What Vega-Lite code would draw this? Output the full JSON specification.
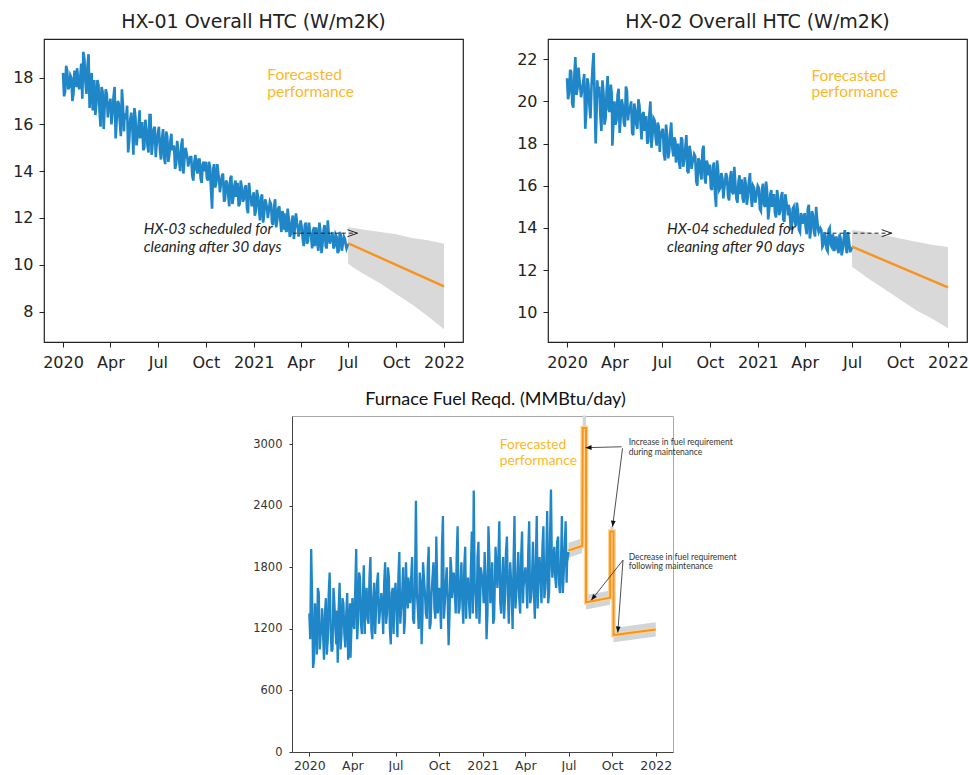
{
"$schema":"https://vega.github.io/schema/vega-lite/v6.json",
"background":"white",
"padding":{"left":12,"top":12,"right":0,"bottom":0},
"config":{"view":{"stroke":"#222","strokeWidth":1.2},"axis":{"grid":false,"domain":false,"title":null,"labelOverlap":false},"title":{"fontWeight":"normal"}},
"datasets":{
"obs":[
{"date":"2020-01-01","hx1":18.2,"hx2":21.1,"fuel":1350},{"date":"2020-01-05","hx1":17.4,"hx2":20.4,"fuel":1980},{"date":"2020-01-09","hx1":18.3,"hx2":21.4,"fuel":820},{"date":"2020-01-13","hx1":17.6,"hx2":19.7,"fuel":1450},{"date":"2020-01-17","hx1":18.0,"hx2":22.1,"fuel":950},{"date":"2020-01-21","hx1":17.3,"hx2":20.6,"fuel":1550},{"date":"2020-01-25","hx1":17.9,"hx2":21.0,"fuel":1150},{"date":"2020-01-28","hx1":18.4,"hx2":20.2,"fuel":1400},
{"date":"2020-02-01","hx1":17.5,"hx2":20.9,"fuel":900},{"date":"2020-02-05","hx1":18.6,"hx2":18.7,"fuel":1500},{"date":"2020-02-09","hx1":19.1,"hx2":21.1,"fuel":1100},{"date":"2020-02-13","hx1":17.8,"hx2":19.8,"fuel":1750},{"date":"2020-02-17","hx1":18.5,"hx2":20.7,"fuel":980},{"date":"2020-02-21","hx1":16.7,"hx2":22.3,"fuel":1600},{"date":"2020-02-25","hx1":18.2,"hx2":18.0,"fuel":1200},{"date":"2020-02-28","hx1":17.6,"hx2":21.0,"fuel":1380},
{"date":"2020-03-01","hx1":17.9,"hx2":20.2,"fuel":870},{"date":"2020-03-05","hx1":16.9,"hx2":19.3,"fuel":1650},{"date":"2020-03-09","hx1":17.7,"hx2":21.0,"fuel":1150},{"date":"2020-03-13","hx1":15.9,"hx2":18.9,"fuel":1450},{"date":"2020-03-17","hx1":17.4,"hx2":20.5,"fuel":1020},{"date":"2020-03-21","hx1":16.8,"hx2":19.6,"fuel":1550},{"date":"2020-03-25","hx1":17.3,"hx2":20.8,"fuel":1250},{"date":"2020-03-28","hx1":16.6,"hx2":17.9,"fuel":920},
{"date":"2020-04-01","hx1":17.1,"hx2":20.0,"fuel":1500},{"date":"2020-04-05","hx1":16.5,"hx2":19.1,"fuel":1200},{"date":"2020-04-09","hx1":17.6,"hx2":20.6,"fuel":1980},{"date":"2020-04-13","hx1":16.2,"hx2":19.3,"fuel":1300},{"date":"2020-04-17","hx1":16.9,"hx2":19.8,"fuel":1700},{"date":"2020-04-21","hx1":15.5,"hx2":18.8,"fuel":1150},{"date":"2020-04-25","hx1":16.8,"hx2":20.5,"fuel":1820},{"date":"2020-04-28","hx1":16.4,"hx2":19.4,"fuel":1350},
{"date":"2020-05-01","hx1":16.3,"hx2":19.7,"fuel":1600},{"date":"2020-05-05","hx1":14.8,"hx2":18.5,"fuel":1250},{"date":"2020-05-09","hx1":16.2,"hx2":19.9,"fuel":1900},{"date":"2020-05-13","hx1":15.9,"hx2":18.9,"fuel":1100},{"date":"2020-05-17","hx1":16.7,"hx2":20.1,"fuel":1650},{"date":"2020-05-21","hx1":15.1,"hx2":19.0,"fuel":1400},{"date":"2020-05-25","hx1":16.0,"hx2":19.4,"fuel":1750},{"date":"2020-05-28","hx1":15.4,"hx2":18.6,"fuel":1300},
{"date":"2020-06-01","hx1":16.1,"hx2":19.3,"fuel":1550},{"date":"2020-06-05","hx1":15.0,"hx2":18.1,"fuel":1150},{"date":"2020-06-09","hx1":15.8,"hx2":20.0,"fuel":1850},{"date":"2020-06-13","hx1":14.8,"hx2":18.4,"fuel":1350},{"date":"2020-06-17","hx1":16.4,"hx2":19.1,"fuel":1700},{"date":"2020-06-21","hx1":15.2,"hx2":17.9,"fuel":1050},{"date":"2020-06-25","hx1":15.9,"hx2":18.8,"fuel":1600},{"date":"2020-06-28","hx1":15.0,"hx2":18.2,"fuel":1450},
{"date":"2020-07-01","hx1":15.6,"hx2":18.6,"fuel":1650},{"date":"2020-07-05","hx1":14.9,"hx2":17.5,"fuel":1120},{"date":"2020-07-09","hx1":15.4,"hx2":18.9,"fuel":1950},{"date":"2020-07-13","hx1":14.6,"hx2":17.3,"fuel":1400},{"date":"2020-07-17","hx1":15.7,"hx2":18.5,"fuel":1800},{"date":"2020-07-21","hx1":14.4,"hx2":17.8,"fuel":1300},{"date":"2020-07-25","hx1":15.3,"hx2":18.3,"fuel":1550},{"date":"2020-07-28","hx1":14.9,"hx2":17.1,"fuel":1700},
{"date":"2020-08-01","hx1":15.1,"hx2":18.0,"fuel":1450},{"date":"2020-08-05","hx1":14.3,"hx2":16.8,"fuel":1900},{"date":"2020-08-09","hx1":14.9,"hx2":18.2,"fuel":1250},{"date":"2020-08-13","hx1":14.0,"hx2":17.2,"fuel":2450},{"date":"2020-08-17","hx1":15.4,"hx2":18.4,"fuel":1400},{"date":"2020-08-21","hx1":14.5,"hx2":16.6,"fuel":1750},{"date":"2020-08-25","hx1":14.8,"hx2":17.6,"fuel":1050},{"date":"2020-08-28","hx1":14.2,"hx2":17.0,"fuel":1850},
{"date":"2020-09-01","hx1":14.6,"hx2":17.5,"fuel":1550},{"date":"2020-09-05","hx1":13.8,"hx2":16.2,"fuel":1300},{"date":"2020-09-09","hx1":14.4,"hx2":17.3,"fuel":2000},{"date":"2020-09-13","hx1":14.1,"hx2":16.6,"fuel":1250},{"date":"2020-09-17","hx1":14.5,"hx2":17.7,"fuel":1700},{"date":"2020-09-21","hx1":13.7,"hx2":16.4,"fuel":1400},{"date":"2020-09-25","hx1":14.3,"hx2":17.2,"fuel":2100},{"date":"2020-09-28","hx1":14.0,"hx2":16.5,"fuel":1350},
{"date":"2020-10-01","hx1":14.4,"hx2":17.0,"fuel":1600},{"date":"2020-10-05","hx1":13.6,"hx2":15.8,"fuel":1200},{"date":"2020-10-09","hx1":14.2,"hx2":17.1,"fuel":2300},{"date":"2020-10-13","hx1":12.4,"hx2":15.0,"fuel":1450},{"date":"2020-10-17","hx1":14.3,"hx2":16.7,"fuel":1800},{"date":"2020-10-21","hx1":13.5,"hx2":15.9,"fuel":1040},{"date":"2020-10-25","hx1":13.9,"hx2":16.4,"fuel":1900},{"date":"2020-10-28","hx1":13.1,"hx2":15.7,"fuel":1500},
{"date":"2020-11-01","hx1":13.8,"hx2":16.6,"fuel":1750},{"date":"2020-11-05","hx1":12.7,"hx2":15.5,"fuel":1350},{"date":"2020-11-09","hx1":13.6,"hx2":16.4,"fuel":2200},{"date":"2020-11-13","hx1":13.0,"hx2":15.7,"fuel":1400},{"date":"2020-11-17","hx1":13.7,"hx2":16.9,"fuel":1850},{"date":"2020-11-21","hx1":12.6,"hx2":15.4,"fuel":1250},{"date":"2020-11-25","hx1":13.4,"hx2":16.2,"fuel":2000},{"date":"2020-11-28","hx1":12.9,"hx2":15.6,"fuel":1550},
{"date":"2020-12-01","hx1":13.5,"hx2":16.3,"fuel":1700},{"date":"2020-12-05","hx1":12.6,"hx2":15.2,"fuel":1300},{"date":"2020-12-09","hx1":13.3,"hx2":16.1,"fuel":2150},{"date":"2020-12-13","hx1":12.8,"hx2":15.5,"fuel":2550},{"date":"2020-12-17","hx1":13.4,"hx2":16.6,"fuel":1500},{"date":"2020-12-21","hx1":12.2,"hx2":15.0,"fuel":1900},{"date":"2020-12-25","hx1":13.0,"hx2":15.9,"fuel":1250},{"date":"2020-12-28","hx1":12.5,"hx2":15.3,"fuel":1800},
{"date":"2021-01-01","hx1":13.1,"hx2":16.0,"fuel":1650},{"date":"2021-01-05","hx1":12.3,"hx2":14.9,"fuel":1950},{"date":"2021-01-09","hx1":12.9,"hx2":15.8,"fuel":1100},{"date":"2021-01-13","hx1":11.9,"hx2":15.1,"fuel":2200},{"date":"2021-01-17","hx1":13.0,"hx2":16.2,"fuel":1450},{"date":"2021-01-21","hx1":12.2,"hx2":14.4,"fuel":1850},{"date":"2021-01-25","hx1":12.6,"hx2":15.6,"fuel":1300},{"date":"2021-01-28","hx1":12.0,"hx2":15.0,"fuel":2000},
{"date":"2021-02-01","hx1":12.7,"hx2":15.6,"fuel":1600},{"date":"2021-02-05","hx1":11.8,"hx2":14.5,"fuel":2250},{"date":"2021-02-09","hx1":12.5,"hx2":15.4,"fuel":1350},{"date":"2021-02-13","hx1":11.6,"hx2":14.8,"fuel":1900},{"date":"2021-02-17","hx1":12.4,"hx2":15.7,"fuel":1500},{"date":"2021-02-21","hx1":11.9,"hx2":14.3,"fuel":2100},{"date":"2021-02-25","hx1":12.3,"hx2":15.2,"fuel":1250},{"date":"2021-02-28","hx1":11.5,"hx2":14.6,"fuel":1850},
{"date":"2021-03-01","hx1":12.2,"hx2":15.1,"fuel":1750},{"date":"2021-03-05","hx1":11.4,"hx2":14.1,"fuel":1200},{"date":"2021-03-09","hx1":12.0,"hx2":14.9,"fuel":2300},{"date":"2021-03-13","hx1":11.3,"hx2":14.3,"fuel":1550},{"date":"2021-03-17","hx1":12.1,"hx2":15.2,"fuel":1950},{"date":"2021-03-21","hx1":11.6,"hx2":13.9,"fuel":1350},{"date":"2021-03-25","hx1":11.8,"hx2":14.7,"fuel":2150},{"date":"2021-03-28","hx1":11.2,"hx2":14.2,"fuel":1600},
{"date":"2021-04-01","hx1":11.9,"hx2":14.7,"fuel":1800},{"date":"2021-04-05","hx1":11.1,"hx2":13.7,"fuel":1400},{"date":"2021-04-09","hx1":11.7,"hx2":15.1,"fuel":2250},{"date":"2021-04-13","hx1":10.9,"hx2":13.9,"fuel":1500},{"date":"2021-04-17","hx1":11.8,"hx2":14.6,"fuel":2050},{"date":"2021-04-21","hx1":11.2,"hx2":13.6,"fuel":1300},{"date":"2021-04-25","hx1":11.5,"hx2":14.4,"fuel":2300},{"date":"2021-04-28","hx1":10.8,"hx2":13.8,"fuel":1650},
{"date":"2021-05-01","hx1":11.6,"hx2":14.0,"fuel":1900},{"date":"2021-05-05","hx1":10.6,"hx2":13.1,"fuel":1450},{"date":"2021-05-09","hx1":11.4,"hx2":13.8,"fuel":2200},{"date":"2021-05-13","hx1":10.9,"hx2":13.0,"fuel":1600},{"date":"2021-05-17","hx1":11.7,"hx2":13.9,"fuel":2350},{"date":"2021-05-21","hx1":10.7,"hx2":13.2,"fuel":1550},{"date":"2021-05-25","hx1":11.3,"hx2":13.7,"fuel":2560},{"date":"2021-05-28","hx1":11.0,"hx2":12.9,"fuel":1700},
{"date":"2021-06-01","hx1":11.4,"hx2":13.6,"fuel":2000},{"date":"2021-06-05","hx1":10.8,"hx2":12.8,"fuel":1600},{"date":"2021-06-09","hx1":11.2,"hx2":13.5,"fuel":2100},{"date":"2021-06-13","hx1":10.6,"hx2":13.0,"fuel":1550},{"date":"2021-06-17","hx1":11.3,"hx2":13.9,"fuel":2300},{"date":"2021-06-21","hx1":10.9,"hx2":12.8,"fuel":1750},{"date":"2021-06-25","hx1":11.1,"hx2":13.4,"fuel":2250},{"date":"2021-06-28","hx1":10.7,"hx2":12.9,"fuel":1850},
{"date":"2021-07-01","hx1":10.9,"hx2":13.1,"fuel":1950},
{"date":"2020-01-03","hx1":17.2,"hx2":20.1,"fuel":1100},{"date":"2020-01-07","hx1":18.5,"hx2":21.5,"fuel":1500},{"date":"2020-01-11","hx1":17.5,"hx2":19.9,"fuel":900},{"date":"2020-01-15","hx1":18.1,"hx2":21.2,"fuel":1300},{"date":"2020-01-19","hx1":17.0,"hx2":20.3,"fuel":1600},{"date":"2020-01-23","hx1":18.3,"hx2":21.6,"fuel":1000},{"date":"2020-01-27","hx1":17.6,"hx2":20.5,"fuel":1250},
{"date":"2020-02-03","hx1":18.0,"hx2":21.3,"fuel":1350},{"date":"2020-02-07","hx1":17.1,"hx2":19.5,"fuel":950},{"date":"2020-02-11","hx1":18.8,"hx2":20.8,"fuel":1550},{"date":"2020-02-15","hx1":17.3,"hx2":19.2,"fuel":1200},{"date":"2020-02-19","hx1":19.0,"hx2":21.6,"fuel":1000},{"date":"2020-02-23","hx1":17.5,"hx2":20.1,"fuel":1450},{"date":"2020-02-27","hx1":16.6,"hx2":19.7,"fuel":1050},
{"date":"2020-03-03","hx1":16.4,"hx2":20.7,"fuel":1400},{"date":"2020-03-07","hx1":17.9,"hx2":18.6,"fuel":1000},{"date":"2020-03-11","hx1":16.6,"hx2":20.4,"fuel":1500},{"date":"2020-03-15","hx1":17.6,"hx2":19.2,"fuel":1150},{"date":"2020-03-19","hx1":15.8,"hx2":21.2,"fuel":1350},{"date":"2020-03-23","hx1":17.5,"hx2":19.5,"fuel":900},{"date":"2020-03-27","hx1":16.3,"hx2":20.3,"fuel":1450},
{"date":"2020-04-03","hx1":16.0,"hx2":18.9,"fuel":1250},{"date":"2020-04-07","hx1":17.2,"hx2":20.3,"fuel":1600},{"date":"2020-04-11","hx1":15.4,"hx2":18.5,"fuel":1100},{"date":"2020-04-15","hx1":17.0,"hx2":20.1,"fuel":1750},{"date":"2020-04-19","hx1":16.1,"hx2":19.0,"fuel":1250},{"date":"2020-04-23","hx1":17.5,"hx2":20.7,"fuel":1500},{"date":"2020-04-27","hx1":15.7,"hx2":19.1,"fuel":1150},
{"date":"2020-05-03","hx1":16.8,"hx2":20.0,"fuel":1300},{"date":"2020-05-07","hx1":15.3,"hx2":18.4,"fuel":1700},{"date":"2020-05-11","hx1":16.5,"hx2":19.6,"fuel":1200},{"date":"2020-05-15","hx1":14.7,"hx2":18.7,"fuel":1500},{"date":"2020-05-19","hx1":16.3,"hx2":19.8,"fuel":1150},{"date":"2020-05-23","hx1":15.5,"hx2":18.2,"fuel":1650},{"date":"2020-05-27","hx1":16.6,"hx2":19.5,"fuel":1250},
{"date":"2020-06-03","hx1":14.9,"hx2":18.0,"fuel":1400},{"date":"2020-06-07","hx1":16.2,"hx2":19.4,"fuel":1650},{"date":"2020-06-11","hx1":15.1,"hx2":17.8,"fuel":1250},{"date":"2020-06-15","hx1":16.4,"hx2":19.2,"fuel":1800},{"date":"2020-06-19","hx1":14.7,"hx2":18.3,"fuel":1200},{"date":"2020-06-23","hx1":15.8,"hx2":19.0,"fuel":1550},{"date":"2020-06-27","hx1":14.6,"hx2":17.6,"fuel":1150},
{"date":"2020-07-03","hx1":15.9,"hx2":18.7,"fuel":1350},{"date":"2020-07-07","hx1":14.5,"hx2":17.2,"fuel":1700},{"date":"2020-07-11","hx1":15.8,"hx2":18.4,"fuel":1250},{"date":"2020-07-15","hx1":14.3,"hx2":17.6,"fuel":1550},{"date":"2020-07-19","hx1":15.5,"hx2":19.0,"fuel":1150},{"date":"2020-07-23","hx1":14.7,"hx2":17.4,"fuel":1850},{"date":"2020-07-27","hx1":15.6,"hx2":18.1,"fuel":1400},
{"date":"2020-08-03","hx1":14.1,"hx2":17.1,"fuel":1700},{"date":"2020-08-07","hx1":15.3,"hx2":18.3,"fuel":1300},{"date":"2020-08-11","hx1":14.4,"hx2":16.9,"fuel":1600},{"date":"2020-08-15","hx1":15.1,"hx2":17.8,"fuel":1550},{"date":"2020-08-19","hx1":13.9,"hx2":16.7,"fuel":1200},{"date":"2020-08-23","hx1":15.0,"hx2":17.9,"fuel":1650},{"date":"2020-08-27","hx1":14.5,"hx2":16.8,"fuel":1350},
{"date":"2020-09-03","hx1":14.6,"hx2":17.4,"fuel":1350},{"date":"2020-09-07","hx1":13.6,"hx2":16.0,"fuel":1800},{"date":"2020-09-11","hx1":14.7,"hx2":17.2,"fuel":1200},{"date":"2020-09-15","hx1":13.9,"hx2":16.3,"fuel":1550},{"date":"2020-09-19","hx1":14.5,"hx2":17.9,"fuel":1850},{"date":"2020-09-23","hx1":13.5,"hx2":16.1,"fuel":1300},{"date":"2020-09-27","hx1":14.4,"hx2":17.0,"fuel":1600},
{"date":"2020-10-03","hx1":13.7,"hx2":15.9,"fuel":1450},{"date":"2020-10-07","hx1":14.4,"hx2":16.9,"fuel":2000},{"date":"2020-10-11","hx1":13.2,"hx2":15.6,"fuel":1300},{"date":"2020-10-15","hx1":14.1,"hx2":17.2,"fuel":1650},{"date":"2020-10-19","hx1":13.3,"hx2":15.8,"fuel":1500},{"date":"2020-10-23","hx1":14.3,"hx2":16.6,"fuel":1350},{"date":"2020-10-27","hx1":13.5,"hx2":15.4,"fuel":1750},
{"date":"2020-11-03","hx1":13.9,"hx2":16.4,"fuel":1550},{"date":"2020-11-07","hx1":12.8,"hx2":15.3,"fuel":1900},{"date":"2020-11-11","hx1":13.5,"hx2":16.7,"fuel":1350},{"date":"2020-11-15","hx1":12.5,"hx2":15.6,"fuel":1650},{"date":"2020-11-19","hx1":13.8,"hx2":16.1,"fuel":1450},{"date":"2020-11-23","hx1":12.9,"hx2":15.2,"fuel":1800},{"date":"2020-11-27","hx1":13.6,"hx2":16.5,"fuel":1300},
{"date":"2020-12-03","hx1":12.5,"hx2":15.4,"fuel":1450},{"date":"2020-12-07","hx1":13.6,"hx2":16.4,"fuel":1800},{"date":"2020-12-11","hx1":12.7,"hx2":15.1,"fuel":1350},{"date":"2020-12-15","hx1":13.3,"hx2":16.2,"fuel":1650},{"date":"2020-12-19","hx1":12.4,"hx2":15.5,"fuel":1300},{"date":"2020-12-23","hx1":13.5,"hx2":16.0,"fuel":2050},{"date":"2020-12-27","hx1":12.8,"hx2":15.2,"fuel":1550},
{"date":"2021-01-03","hx1":12.1,"hx2":15.9,"fuel":1450},{"date":"2021-01-07","hx1":13.2,"hx2":14.8,"fuel":1700},{"date":"2021-01-11","hx1":12.4,"hx2":16.1,"fuel":1350},{"date":"2021-01-15","hx1":12.9,"hx2":15.0,"fuel":1900},{"date":"2021-01-19","hx1":11.8,"hx2":15.7,"fuel":1600},{"date":"2021-01-23","hx1":12.8,"hx2":14.9,"fuel":1250},{"date":"2021-01-27","hx1":12.3,"hx2":15.8,"fuel":1750},
{"date":"2021-02-03","hx1":12.6,"hx2":14.7,"fuel":1900},{"date":"2021-02-07","hx1":11.7,"hx2":15.8,"fuel":1450},{"date":"2021-02-11","hx1":12.8,"hx2":14.6,"fuel":1700},{"date":"2021-02-15","hx1":11.9,"hx2":15.5,"fuel":1300},{"date":"2021-02-19","hx1":12.5,"hx2":14.4,"fuel":1950},{"date":"2021-02-23","hx1":11.4,"hx2":15.6,"fuel":1550},{"date":"2021-02-27","hx1":12.1,"hx2":14.9,"fuel":1700},
{"date":"2021-03-03","hx1":11.5,"hx2":14.9,"fuel":1550},{"date":"2021-03-07","hx1":12.4,"hx2":13.9,"fuel":1850},{"date":"2021-03-11","hx1":11.2,"hx2":15.0,"fuel":1400},{"date":"2021-03-15","hx1":11.9,"hx2":14.1,"fuel":1700},{"date":"2021-03-19","hx1":11.1,"hx2":14.8,"fuel":1500},{"date":"2021-03-23","hx1":12.2,"hx2":13.8,"fuel":1900},{"date":"2021-03-27","hx1":11.5,"hx2":14.5,"fuel":1450},
{"date":"2021-04-03","hx1":11.6,"hx2":14.0,"fuel":1650},{"date":"2021-04-07","hx1":10.8,"hx2":14.9,"fuel":1950},{"date":"2021-04-11","hx1":11.8,"hx2":13.5,"fuel":1450},{"date":"2021-04-15","hx1":11.0,"hx2":14.8,"fuel":1700},{"date":"2021-04-19","hx1":11.4,"hx2":13.8,"fuel":1550},{"date":"2021-04-23","hx1":10.7,"hx2":15.0,"fuel":1850},{"date":"2021-04-27","hx1":11.6,"hx2":13.9,"fuel":1400},
{"date":"2021-05-03","hx1":10.9,"hx2":13.9,"fuel":1650},{"date":"2021-05-07","hx1":11.8,"hx2":13.2,"fuel":2000},{"date":"2021-05-11","hx1":10.5,"hx2":13.6,"fuel":1500},{"date":"2021-05-15","hx1":11.5,"hx2":12.9,"fuel":1850},{"date":"2021-05-19","hx1":10.8,"hx2":14.0,"fuel":1450},{"date":"2021-05-23","hx1":11.9,"hx2":13.1,"fuel":2100},{"date":"2021-05-27","hx1":10.9,"hx2":13.5,"fuel":1800},
{"date":"2021-06-03","hx1":10.7,"hx2":13.0,"fuel":1700},{"date":"2021-06-07","hx1":11.3,"hx2":13.7,"fuel":2050},{"date":"2021-06-11","hx1":10.5,"hx2":12.7,"fuel":1650},{"date":"2021-06-15","hx1":11.4,"hx2":13.5,"fuel":1800},{"date":"2021-06-19","hx1":10.6,"hx2":13.1,"fuel":1550},{"date":"2021-06-23","hx1":11.2,"hx2":13.8,"fuel":2000},{"date":"2021-06-27","hx1":10.8,"hx2":12.9,"fuel":1650}
],
"band1":[{"date":"2021-07-01","lo":10.05,"hi":11.6},{"date":"2021-07-10","lo":9.9,"hi":11.58},{"date":"2021-08-01","lo":9.6,"hi":11.5},{"date":"2021-09-01","lo":9.2,"hi":11.4},{"date":"2021-10-01","lo":8.75,"hi":11.3},{"date":"2021-11-01","lo":8.3,"hi":11.15},{"date":"2021-12-01","lo":7.8,"hi":11.05},{"date":"2022-01-01","lo":7.25,"hi":10.9}],
"line1":[{"date":"2021-07-01","fc":10.92},{"date":"2022-01-01","fc":9.08}],
"band2":[{"date":"2021-07-01","lo":12.15,"hi":13.9},{"date":"2021-07-10","lo":12.0,"hi":13.88},{"date":"2021-08-01","lo":11.6,"hi":13.8},{"date":"2021-09-01","lo":11.1,"hi":13.65},{"date":"2021-10-01","lo":10.6,"hi":13.5},{"date":"2021-11-01","lo":10.1,"hi":13.35},{"date":"2021-12-01","lo":9.7,"hi":13.2},{"date":"2022-01-01","lo":9.24,"hi":13.1}],
"line2":[{"date":"2021-07-01","fc":13.11},{"date":"2022-01-01","fc":11.18}],
"fuelfc":[{"seq":1,"date":"2021-07-01","fc":1965,"lo":1895,"hi":2040},{"seq":2,"date":"2021-07-30","fc":2010,"lo":1940,"hi":2085},{"seq":3,"date":"2021-07-31","fc":3160,"lo":3090,"hi":3280},{"seq":4,"date":"2021-08-07","fc":3160,"lo":3090,"hi":3280},{"seq":5,"date":"2021-08-07","fc":1460,"lo":1390,"hi":1530},{"seq":6,"date":"2021-09-27","fc":1505,"lo":1435,"hi":1575},{"seq":7,"date":"2021-09-27","fc":2150,"lo":2080,"hi":2200},{"seq":8,"date":"2021-10-04","fc":2150,"lo":2080,"hi":2200},{"seq":9,"date":"2021-10-04","fc":1140,"lo":1070,"hi":1210},{"seq":10,"date":"2022-01-01","fc":1195,"lo":1125,"hi":1265}]
},
"spacing":19,
"vconcat":[
{"hconcat":[
{"width":419,"height":303,
"title":{"text":"HX-01 Overall HTC (W/m2K)","font":"DejaVu Sans","fontSize":19,"color":"#222","offset":7},
"layer":[
{"data":{"name":"band1"},"mark":{"type":"area","color":"#d9d9d9"},
"encoding":{"x":{"field":"date","type":"temporal","scale":{"type":"utc","domain":[{"year":2019,"month":11,"date":25,"hours":12,"utc":true},{"year":2022,"month":2,"date":6,"hours":12,"utc":true}]},
"axis":{"values":[{"year":2020,"month":1,"date":1,"utc":true},{"year":2020,"month":4,"date":1,"utc":true},{"year":2020,"month":7,"date":1,"utc":true},{"year":2020,"month":10,"date":1,"utc":true},{"year":2021,"month":1,"date":1,"utc":true},{"year":2021,"month":4,"date":1,"utc":true},{"year":2021,"month":7,"date":1,"utc":true},{"year":2021,"month":10,"date":1,"utc":true},{"year":2022,"month":1,"date":1,"utc":true}],
"labelExpr":"utcFormat(datum.value, '%m') == '01' ? utcFormat(datum.value, '%Y') : utcFormat(datum.value, '%b')","labelFont":"DejaVu Sans","labelFontSize":16,"labelColor":"#222","tickColor":"#222","tickSize":5,"labelPadding":7,"labelFlush":false}},
"y":{"field":"lo","type":"quantitative","scale":{"domain":[6.7,19.65],"nice":false,"zero":false},"axis":{"values":[8,10,12,14,16,18],"labelFont":"DejaVu Sans","labelFontSize":16,"labelColor":"#222","tickColor":"#222","tickSize":5,"labelPadding":6}},
"y2":{"field":"hi"}}},
{"data":{"name":"obs"},"mark":{"type":"line","color":"#1f86c8","strokeWidth":2.6},"encoding":{"x":{"field":"date","type":"temporal"},"y":{"field":"hx1","type":"quantitative"}}},
{"data":{"name":"line1"},"mark":{"type":"line","color":"#f7931e","strokeWidth":2.4},"encoding":{"x":{"field":"date","type":"temporal"},"y":{"field":"fc","type":"quantitative"}}},
{"data":{"values":[{"date":"2021-01-27","v":18.39,"label":"Forecasted\nperformance"}]},"mark":{"type":"text","align":"left","baseline":"top","font":"Lato","fontSize":15.5,"color":"#fdb827","lineBreak":"\n","lineHeight":16.7},"encoding":{"x":{"field":"date","type":"temporal"},"y":{"field":"v","type":"quantitative"},"text":{"field":"label"}}},
{"data":{"values":[{"date":"2020-06-04","v":11.81,"label":"HX-03 scheduled for\ncleaning after 30 days"}]},"mark":{"type":"text","align":"left","baseline":"top","font":"Lato","fontStyle":"italic","fontSize":15,"color":"#222","lineBreak":"\n","lineHeight":17.3},"encoding":{"x":{"field":"date","type":"temporal"},"y":{"field":"v","type":"quantitative"},"text":{"field":"label"}}},
{"data":{"values":[{"date":"2021-03-17","date2":"2021-07-19","v":11.35}]},"mark":{"type":"rule","color":"#222","strokeWidth":1,"strokeDash":[4,3]},"encoding":{"x":{"field":"date","type":"temporal"},"x2":{"field":"date2"},"y":{"field":"v","type":"quantitative"}}},
{"data":{"values":[{"date":"2021-07-19","v":11.35}]},"mark":{"type":"point","shape":"M-2,-0.7L0,0L-2,0.7","filled":false,"color":"#222","strokeWidth":1,"size":100,"opacity":1},"encoding":{"x":{"field":"date","type":"temporal"},"y":{"field":"v","type":"quantitative"}}}
]},
{"width":419,"height":303,
"title":{"text":"HX-02 Overall HTC (W/m2K)","font":"DejaVu Sans","fontSize":19,"color":"#222","offset":7},
"layer":[
{"data":{"name":"band2"},"mark":{"type":"area","color":"#d9d9d9"},
"encoding":{"x":{"field":"date","type":"temporal","scale":{"type":"utc","domain":[{"year":2019,"month":11,"date":25,"hours":12,"utc":true},{"year":2022,"month":2,"date":6,"hours":12,"utc":true}]},
"axis":{"values":[{"year":2020,"month":1,"date":1,"utc":true},{"year":2020,"month":4,"date":1,"utc":true},{"year":2020,"month":7,"date":1,"utc":true},{"year":2020,"month":10,"date":1,"utc":true},{"year":2021,"month":1,"date":1,"utc":true},{"year":2021,"month":4,"date":1,"utc":true},{"year":2021,"month":7,"date":1,"utc":true},{"year":2021,"month":10,"date":1,"utc":true},{"year":2022,"month":1,"date":1,"utc":true}],
"labelExpr":"utcFormat(datum.value, '%m') == '01' ? utcFormat(datum.value, '%Y') : utcFormat(datum.value, '%b')","labelFont":"DejaVu Sans","labelFontSize":16,"labelColor":"#222","tickColor":"#222","tickSize":5,"labelPadding":7,"labelFlush":false}},
"y":{"field":"lo","type":"quantitative","scale":{"domain":[8.59,22.96],"nice":false,"zero":false},"axis":{"values":[10,12,14,16,18,20,22],"labelFont":"DejaVu Sans","labelFontSize":16,"labelColor":"#222","tickColor":"#222","tickSize":5,"labelPadding":6}},
"y2":{"field":"hi"}}},
{"data":{"name":"obs"},"mark":{"type":"line","color":"#1f86c8","strokeWidth":2.6},"encoding":{"x":{"field":"date","type":"temporal"},"y":{"field":"hx2","type":"quantitative"}}},
{"data":{"name":"line2"},"mark":{"type":"line","color":"#f7931e","strokeWidth":2.4},"encoding":{"x":{"field":"date","type":"temporal"},"y":{"field":"fc","type":"quantitative"}}},
{"data":{"values":[{"date":"2021-04-14","v":21.56,"label":"Forecasted\nperformance"}]},"mark":{"type":"text","align":"left","baseline":"top","font":"Lato","fontSize":15.5,"color":"#fdb827","lineBreak":"\n","lineHeight":16.7},"encoding":{"x":{"field":"date","type":"temporal"},"y":{"field":"v","type":"quantitative"},"text":{"field":"label"}}},
{"data":{"values":[{"date":"2020-07-11","v":14.26,"label":"HX-04 scheduled for\ncleaning after 90 days"}]},"mark":{"type":"text","align":"left","baseline":"top","font":"Lato","fontStyle":"italic","fontSize":15,"color":"#222","lineBreak":"\n","lineHeight":17.3},"encoding":{"x":{"field":"date","type":"temporal"},"y":{"field":"v","type":"quantitative"},"text":{"field":"label"}}},
{"data":{"values":[{"date":"2021-05-11","date2":"2021-09-15","v":13.75}]},"mark":{"type":"rule","color":"#222","strokeWidth":1,"strokeDash":[4,3]},"encoding":{"x":{"field":"date","type":"temporal"},"x2":{"field":"date2"},"y":{"field":"v","type":"quantitative"}}},
{"data":{"values":[{"date":"2021-09-15","v":13.75}]},"mark":{"type":"point","shape":"M-2,-0.7L0,0L-2,0.7","filled":false,"color":"#222","strokeWidth":1,"size":100,"opacity":1},"encoding":{"x":{"field":"date","type":"temporal"},"y":{"field":"v","type":"quantitative"}}}
]}
],"spacing":51},
{"hconcat":[
{"width":208,"height":10,"view":{"stroke":null},"data":{"values":[{}]},"mark":{"type":"point","opacity":0}},
{"width":381,"height":336,"view":{"stroke":"#aaa","strokeWidth":1},
"title":{"text":"Furnace Fuel Reqd. (MMBtu/day)","font":"Lato","fontSize":18,"color":"#111","offset":7,"dx":13},
"layer":[
{"data":{"name":"fuelfc"},"mark":{"type":"area","color":"#cfd5db"},
"encoding":{"x":{"field":"date","type":"temporal","scale":{"type":"utc","domain":[{"year":2019,"month":11,"date":25,"hours":12,"utc":true},{"year":2022,"month":2,"date":6,"hours":12,"utc":true}]},
"axis":{"values":[{"year":2020,"month":1,"date":1,"utc":true},{"year":2020,"month":4,"date":1,"utc":true},{"year":2020,"month":7,"date":1,"utc":true},{"year":2020,"month":10,"date":1,"utc":true},{"year":2021,"month":1,"date":1,"utc":true},{"year":2021,"month":4,"date":1,"utc":true},{"year":2021,"month":7,"date":1,"utc":true},{"year":2021,"month":10,"date":1,"utc":true},{"year":2022,"month":1,"date":1,"utc":true}],
"labelExpr":"utcFormat(datum.value, '%m') == '01' ? utcFormat(datum.value, '%Y') : utcFormat(datum.value, '%b')","labelFont":"DejaVu Sans","labelFontSize":12.5,"labelColor":"#333","tickColor":"#333","tickSize":4,"labelPadding":3,"labelFlush":false,"domain":true,"domainColor":"#444"}},
"y":{"field":"lo","type":"quantitative","scale":{"domain":[0,3276],"nice":false,"zero":false},"axis":{"values":[0,300,600,900,1200,1500,1800,2100,2400,2700,3000],"labelExpr":"datum.value % 600 == 0 ? format(datum.value, 'd') : ''","labelFont":"DejaVu Sans","labelFontSize":11.5,"labelColor":"#333","tickColor":"#333","tickSize":3,"labelPadding":7,"domain":true,"domainColor":"#444"}},
"y2":{"field":"hi"}}},
{"data":{"name":"obs"},"mark":{"type":"line","color":"#1f86c8","strokeWidth":2.3},"encoding":{"x":{"field":"date","type":"temporal"},"y":{"field":"fuel","type":"quantitative"}}},
{"data":{"name":"fuelfc"},"mark":{"type":"line","color":"#fbd596","strokeWidth":4.5},"encoding":{"x":{"field":"date","type":"temporal"},"y":{"field":"fc","type":"quantitative"},"order":{"field":"seq","type":"quantitative"}}},
{"data":{"name":"fuelfc"},"mark":{"type":"line","color":"#f7931e","strokeWidth":2},"encoding":{"x":{"field":"date","type":"temporal"},"y":{"field":"fc","type":"quantitative"},"order":{"field":"seq","type":"quantitative"}}},
{"data":{"values":[{"date":"2021-02-06","v":3061,"label":"Forecasted\nperformance"}]},"mark":{"type":"text","align":"left","baseline":"top","font":"Lato","fontSize":13.8,"color":"#fdb827","lineBreak":"\n","lineHeight":16},"encoding":{"x":{"field":"date","type":"temporal"},"y":{"field":"v","type":"quantitative"},"text":{"field":"label"}}},
{"data":{"values":[{"date":"2021-11-05","v":3061,"label":"Increase in fuel requirement\nduring maintenance"},{"date":"2021-11-05","v":1944,"label":"Decrease in fuel requirement\nfollowing maintenance"}]},"mark":{"type":"text","align":"left","baseline":"top","font":"Lato","fontSize":8.5,"color":"#333","lineBreak":"\n","lineHeight":9.8},"encoding":{"x":{"field":"date","type":"temporal"},"y":{"field":"v","type":"quantitative"},"text":{"field":"label"}}},
{"data":{"values":[{"date":"2021-10-21","v":2976,"date2":"2021-08-06","v2":2967},{"date":"2021-10-23","v":2961,"date2":"2021-10-02","v2":2196},{"date":"2021-10-24","v":1871,"date2":"2021-08-18","v2":1480},{"date":"2021-10-24","v":1871,"date2":"2021-10-13","v2":1165}]},"mark":{"type":"rule","color":"#222","strokeWidth":0.8},"encoding":{"x":{"field":"date","type":"temporal"},"x2":{"field":"date2"},"y":{"field":"v","type":"quantitative"},"y2":{"field":"v2"}}},
{"data":{"values":[{"date":"2021-08-06","v":2967}]},"mark":{"type":"point","shape":"M0,0L-2,-0.8L-2,0.8Z","filled":true,"color":"#111","size":36,"opacity":1,"angle":178},"encoding":{"x":{"field":"date","type":"temporal"},"y":{"field":"v","type":"quantitative"}}},
{"data":{"values":[{"date":"2021-10-02","v":2196}]},"mark":{"type":"point","shape":"M0,0L-2,-0.8L-2,0.8Z","filled":true,"color":"#111","size":36,"opacity":1,"angle":97},"encoding":{"x":{"field":"date","type":"temporal"},"y":{"field":"v","type":"quantitative"}}},
{"data":{"values":[{"date":"2021-08-18","v":1480}]},"mark":{"type":"point","shape":"M0,0L-2,-0.8L-2,0.8Z","filled":true,"color":"#111","size":36,"opacity":1,"angle":128},"encoding":{"x":{"field":"date","type":"temporal"},"y":{"field":"v","type":"quantitative"}}},
{"data":{"values":[{"date":"2021-10-13","v":1165}]},"mark":{"type":"point","shape":"M0,0L-2,-0.8L-2,0.8Z","filled":true,"color":"#111","size":36,"opacity":1,"angle":94},"encoding":{"x":{"field":"date","type":"temporal"},"y":{"field":"v","type":"quantitative"}}}
]}
],"spacing":0}
]
}
